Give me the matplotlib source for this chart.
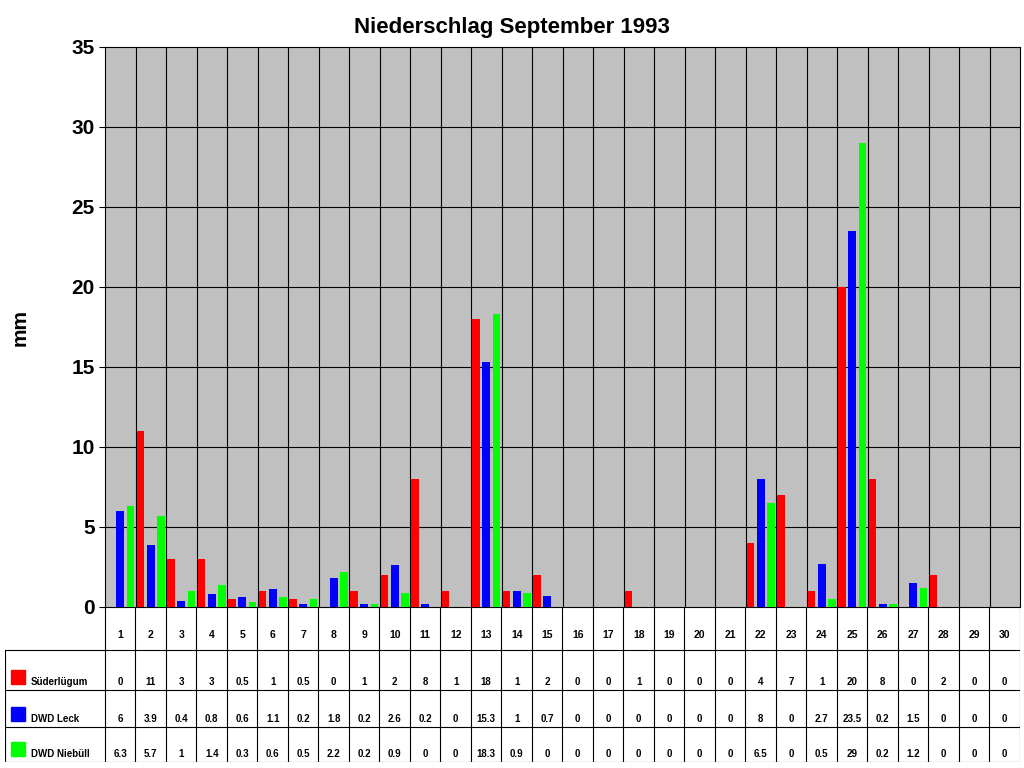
import matplotlib
matplotlib.use("Agg")
import matplotlib.pyplot as plt
import numpy as np

plt.rcParams['font.family'] = ['Liberation Sans', 'DejaVu Sans']
plt.rcParams['font.weight'] = 'bold'

days = list(range(1, 31))
series_names = ["Süderlügum", "DWD Leck", "DWD Niebüll"]
sued = [0, 11, 3, 3, 0.5, 1, 0.5, 0, 1, 2, 8, 1, 18, 1, 2, 0, 0, 1, 0, 0, 0, 4, 7, 1, 20, 8, 0, 2, 0, 0]
leck = [6, 3.9, 0.4, 0.8, 0.6, 1.1, 0.2, 1.8, 0.2, 2.6, 0.2, 0, 15.3, 1, 0.7, 0, 0, 0, 0, 0, 0, 8, 0, 2.7, 23.5, 0.2, 1.5, 0, 0, 0]
nieb = [6.3, 5.7, 1, 1.4, 0.3, 0.6, 0.5, 2.2, 0.2, 0.9, 0, 0, 18.3, 0.9, 0, 0, 0, 0, 0, 0, 0, 6.5, 0, 0.5, 29, 0.2, 1.2, 0, 0, 0]
colors = ["#FF0000", "#0000FF", "#00FF00"]
data = [sued, leck, nieb]

W, H = 1024, 768
fig = plt.figure(figsize=(10.24, 7.68), dpi=100)
ax = fig.add_axes([105/W, 1-607/H, 915/W, 560/H])
ax.set_facecolor("#C0C0C0")
x = np.array(days)
offs = [-0.33, 0, 0.33]
for d, c, o in zip(data, colors, offs):
    ax.bar(x + o, d, width=0.25, color=c, zorder=3)
ax.set_xlim(0.5, 30.5)
ax.set_ylim(0, 35)
ax.set_yticks(range(0, 36, 5))
ax.set_xticks([])
for v in range(5, 35, 5):
    ax.axhline(v, color="black", lw=0.8, zorder=1)
for d in days[:-1]:
    ax.axvline(d + 0.5, color="black", lw=0.8, zorder=1)
ax.tick_params(axis='y', labelsize=15, length=4)
for lab in ax.get_yticklabels():
    lab.set_fontweight('bold')
ax.set_ylabel("mm", fontsize=15, fontweight='bold', labelpad=30)
for s in ax.spines.values():
    s.set_color("black")
fig.text(512/W, 1-27/H, "Niederschlag September 1993", ha='center', va='center', fontsize=16, fontweight='bold')

# table
lab_w = 100 / (915/30)
tx = fig.add_axes([5/W, 1-762/H, 1015/W, 155/H])
tx.set_xlim(0.5 - lab_w, 30.5)
row_edges = [607, 650, 690, 727, 762]
tx.set_ylim(762, 607)
tx.axis('off')
for yy in row_edges[1:]:
    tx.plot([0.5 - lab_w, 30.5], [yy, yy], color='black', lw=0.8)
tx.plot([0.5 - lab_w, 0.5 - lab_w], [650, 762], color='black', lw=0.8)
for d in days:
    tx.plot([d + 0.5, d + 0.5], [607, 762], color='black', lw=0.8)
    tx.text(d, 635, str(d), ha='center', va='center', fontsize=7.5, fontweight='bold')
tx.plot([0.5, 0.5], [607, 762], color='black', lw=0.8)

def fmt(v):
    return str(int(v)) if float(v).is_integer() else str(v)

for r, (name, d, c) in enumerate(zip(series_names, data, colors)):
    top, bot = row_edges[r+1], row_edges[r+2]
    yc = bot - 8
    tx.add_patch(plt.Rectangle((0.5 - lab_w + 0.2, yc - 12), 0.45, 14, color=c, clip_on=False))
    tx.text(0.5 - lab_w + 0.85, yc, name, ha='left', va='center', fontsize=7, fontweight='bold')
    for dd, v in zip(days, d):
        tx.text(dd, yc, fmt(v), ha='center', va='center', fontsize=7, fontweight='bold')

fig.savefig("out.png", dpi=100)
